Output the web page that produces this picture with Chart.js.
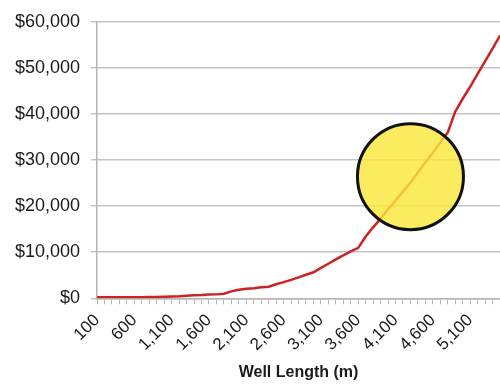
<!DOCTYPE html>
<html>
<head>
<meta charset="utf-8">
<script src="https://cdn.jsdelivr.net/npm/chart.js@4.4.0/dist/chart.umd.min.js"></script>
<style>
  html, body { margin: 0; padding: 0; background: #fff; }
  #wrap { width: 500px; height: 384px; }
</style>
</head>
<body>
<div id="wrap"><canvas id="costChart" width="500" height="384"></canvas></div>
<script>
// Well length categories, every 100 m (label shown every 500 m)
const wellLengths = [];
for (let m = 100; m <= 5500; m += 100) wellLengths.push(m.toLocaleString('en-US'));

// Cost per well length
const costs = [
  200, 200, 200, 200, 200, 250, 250, 300, 300, 350,
  400, 450, 550, 650, 700, 800, 850, 1000, 1500, 1850,
  2050, 2200, 2400, 2500, 3050, 3500, 4000, 4550, 5100, 5650,
  6600, 7500, 8450, 9300, 10200, 10950, 13400, 15400, 17300, 19300,
  21200, 23200, 25100, 27300, 29500, 31600, 33800, 36000, 40500, 43300,
  45900, 48700, 51400, 54200, 57000
];

// The highlighted spot (yellow circle)
const highlightLength = '4,300';
const highlightCost = 26400;

const yTicks = [0, 10000, 20000, 30000, 40000, 50000, 60000];

// draws the yellow marker circle on top of the line
const highlightPlugin = {
    id: 'highlight',
    afterDatasetsDraw(chart) {
        const { ctx, scales } = chart;
        const x = scales.x.getPixelForValue(wellLengths.indexOf(highlightLength));
        const y = scales.y.getPixelForValue(highlightCost);
        ctx.save();
        ctx.beginPath();
        ctx.arc(x, y, 53, 0, Math.PI * 2);
        ctx.fillStyle = 'rgba(250, 230, 60, 0.82)';
        ctx.fill();
        ctx.lineWidth = 3;
        ctx.strokeStyle = '#111';
        ctx.stroke();
        ctx.restore();
    }
};

const ctx = document.getElementById('costChart').getContext('2d');

new Chart(ctx, {
    type: 'line',
    data: {
        labels: wellLengths,
        datasets: [{
            label: 'Cost',
            data: costs,
            borderColor: '#cf2121',
            borderWidth: 2.5,
            pointRadius: 0,
            tension: 0
        }]
    },
    options: {
        responsive: false,
        animation: false,
        layout: { padding: { top: 9, left: 4, right: 0, bottom: 2 } },
        plugins: {
            legend: { display: false },
            tooltip: { enabled: false }
        },
        scales: {
            x: {
                offset: false,
                border: { display: true, color: '#b5b5b5', width: 1.5 },
                grid: {
                    drawOnChartArea: false,
                    drawTicks: true,
                    tickLength: 6,
                    color: '#b5b5b5'
                },
                afterFit: axis => { axis.paddingRight = 0; axis.paddingLeft = 0; },
                ticks: {
                    autoSkip: false,
                    minRotation: 45,
                    maxRotation: 45,
                    padding: 6,
                    color: '#1a1a1a',
                    font: { family: '"Liberation Sans", Arial, sans-serif', size: 17 },
                    callback: (v, i) => (i % 5 === 0 ? wellLengths[i] : '')
                },
                title: {
                    display: true,
                    text: 'Well Length (m)',
                    color: '#1a1a1a',
                    padding: { top: 2, bottom: 0 },
                    font: { family: '"Liberation Sans", Arial, sans-serif', size: 16, weight: 'bold' }
                }
            },
            y: {
                min: 0,
                max: 60000,
                border: { display: true, color: '#b5b5b5', width: 1.5 },
                grid: {
                    color: '#c4c4c4',
                    lineWidth: 1.5,
                    tickLength: 6
                },
                afterBuildTicks: axis => { axis.ticks = yTicks.map(v => ({ value: v })); },
                ticks: {
                    padding: 11,
                    color: '#1a1a1a',
                    font: { family: '"Liberation Sans", Arial, sans-serif', size: 18 },
                    callback: v => '$' + v.toLocaleString('en-US')
                }
            }
        }
    },
    plugins: [highlightPlugin]
});
</script>
</body>
</html>
